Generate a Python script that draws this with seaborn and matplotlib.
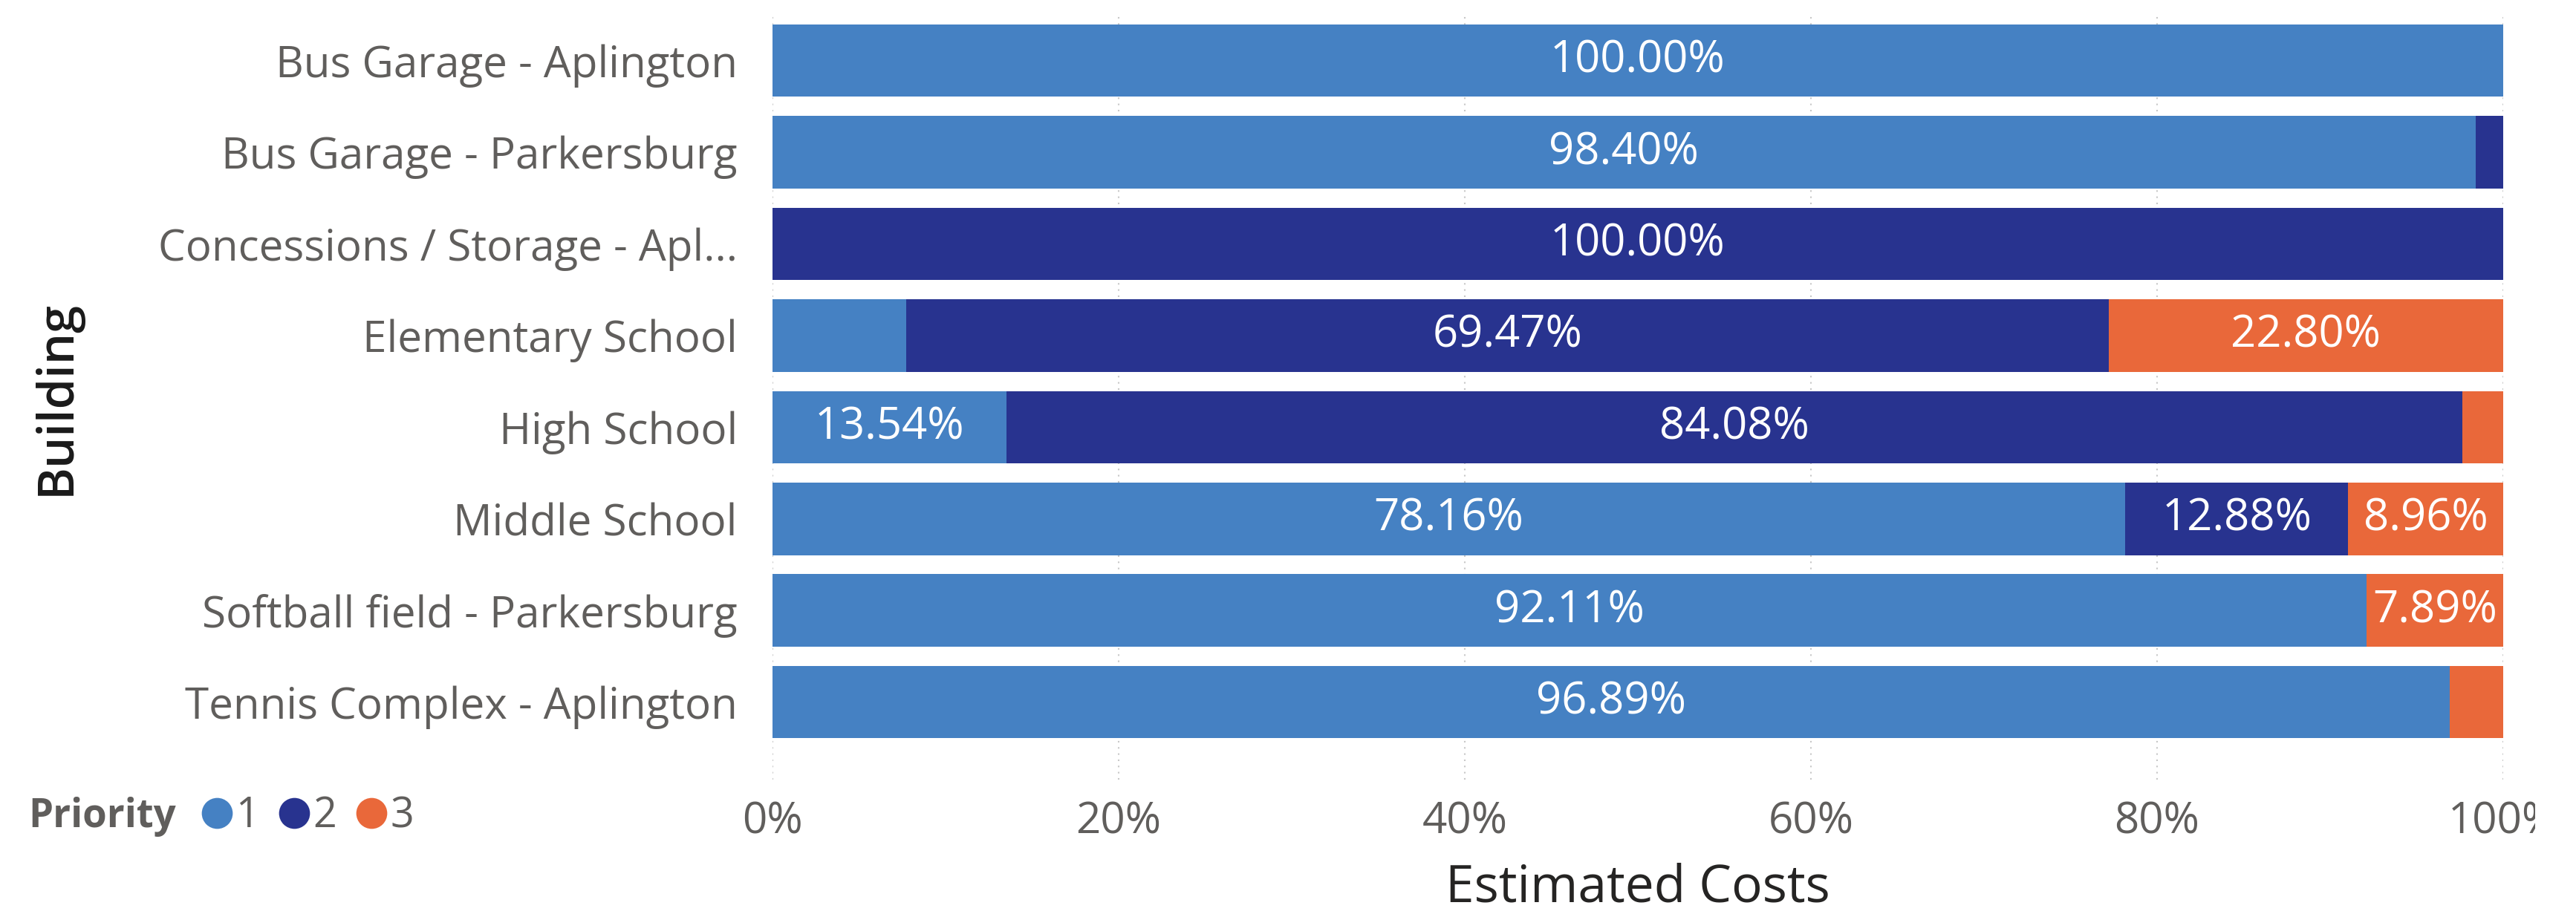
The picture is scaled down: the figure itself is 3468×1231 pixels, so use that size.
import matplotlib
matplotlib.use("Agg")
import matplotlib.pyplot as plt
from matplotlib.lines import Line2D
from matplotlib.transforms import Bbox
import seaborn as sns
import pandas as pd
import numpy as np

buildings = [
    "Bus Garage - Aplington",
    "Bus Garage - Parkersburg",
    "Concessions / Storage - Apl...",
    "Elementary School",
    "High School",
    "Middle School",
    "Softball field - Parkersburg",
    "Tennis Complex - Aplington",
]
priority_1 = [100.00, 98.40, 0.00, 7.73, 13.54, 78.16, 92.11, 96.89]
priority_2 = [0.00, 1.60, 100.00, 69.47, 84.08, 12.88, 0.00, 0.00]
priority_3 = [0.00, 0.00, 0.00, 22.80, 2.38, 8.96, 7.89, 3.11]
priorities = ["1", "2", "3"]
x_ticks = [0, 20, 40, 60, 80, 100]
x_tick_labels = ["0%", "20%", "40%", "60%", "80%", "100%"]

colors = {"1": "#4581C3", "2": "#28338F", "3": "#E9683A"}

sns.set_theme(style="white")
plt.rcParams["font.family"] = ["Open Sans", "DejaVu Sans"]

df = pd.DataFrame({"Building": buildings, "1": priority_1, "2": priority_2, "3": priority_3})
df["c1"] = df["1"]
df["c2"] = df["1"] + df["2"]
df["c3"] = df["1"] + df["2"] + df["3"]

W, H = 3468, 1231
fig = plt.figure(figsize=(W / 100, H / 100), dpi=100)
ax = fig.add_axes([1040 / W, 1 - 1050 / H, (3370 - 1040) / W, (1050 - 20) / H])

bar_h = 0.79
for cum, p in [("c3", "3"), ("c2", "2"), ("c1", "1")]:
    sns.barplot(data=df, x=cum, y="Building", color=colors[p], orient="h",
                width=bar_h, saturation=1, ax=ax, linewidth=0, zorder=2)

# data labels
for i, row in df.iterrows():
    start = 0.0
    for p in priorities:
        v = row[p]
        if v >= 7.8:
            ax.text(start + v / 2, i, f"{v:.2f}%", ha="center", va="center",
                    color="white", fontsize=43, zorder=5)
        start += v

ax.set_xlim(0, 100)
ax.set_ylim(7.846, -0.5)
ax.set_xticks(x_ticks)
ax.set_xticklabels(x_tick_labels)
ax.grid(axis="x", linestyle=(0, (1, 3)), color="#c8c8c8", linewidth=1.5, zorder=0)
ax.set_axisbelow(True)
for s in ax.spines.values():
    s.set_visible(False)
ax.tick_params(axis="both", length=0, labelsize=42, colors="#605E5C")
ax.tick_params(axis="y", pad=34)
ax.tick_params(axis="x", pad=20)
ax.set_xlabel("Estimated Costs", fontsize=50, color="#252423", labelpad=18, fontweight="medium")
ax.set_ylabel("Building", fontsize=48, color="#1a1a1a", fontweight="semibold")
ax.yaxis.set_label_coords((110 - 1040) / (3370 - 1040), 0.5)

# clip the last tick label at the right as in the reference
clip = Bbox([[0, 0], [3413, H]])
for t in ax.get_xticklabels():
    t.set_clip_box(clip)
    t.set_clip_on(True)

# legend
fig.text(38 / W, 1 - 1100 / H, "Priority", fontsize=38, fontweight="bold",
         color="#605E5C", ha="left", va="center")
handles = [Line2D([0], [0], marker="o", linestyle="", markersize=30,
                  markerfacecolor=colors[p], markeredgewidth=0) for p in priorities]
leg = fig.legend(handles, priorities, loc="center left", ncol=3, frameon=False,
                 bbox_to_anchor=(270 / W, 1 - 1100 / H), fontsize=40,
                 handletextpad=0.05, columnspacing=0.45, handlelength=0.8,
                 borderpad=0, borderaxespad=0)
for t in leg.get_texts():
    t.set_color("#605E5C")

fig.savefig("out.png", dpi=100, facecolor="white")
